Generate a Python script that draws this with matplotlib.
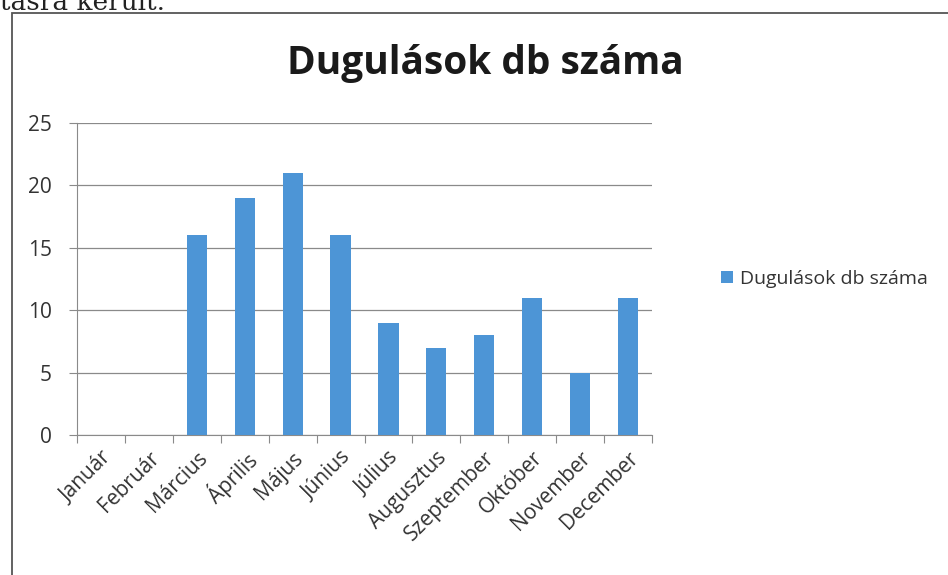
import matplotlib.pyplot as plt
from matplotlib.patches import Rectangle

months = ['Január', 'Február', 'Március', 'Április', 'Május', 'Június',
          'Július', 'Augusztus', 'Szeptember', 'Október', 'November', 'December']
counts = [0, 0, 16, 19, 21, 16, 9, 7, 8, 11, 5, 11]
series_name = 'Dugulások db száma'

plt.rcParams['font.family'] = ['Open Sans', 'DejaVu Sans']
txt = '#333333'

fig = plt.figure(figsize=(9.48, 5.75), dpi=100)
ax = fig.add_axes([0.0812, 0.2435, 0.6066, 0.5426])

x = range(len(months))
ax.bar(x, counts, width=0.42, color='#4D95D6', label=series_name, zorder=3)

ax.set_xlim(-0.5, len(months) - 0.5)
ax.set_ylim(0, 25)
ax.set_yticks([0, 5, 10, 15, 20, 25])
ax.yaxis.grid(True, color='#8a8a8a', linewidth=0.9, zorder=0)

ax.set_xticks([i - 0.5 for i in range(len(months) + 1)], minor=False)
ax.set_xticklabels([])
ax.set_xticks(list(x), minor=True)
ax.set_xticklabels(months, minor=True, rotation=45, ha='right',
                   rotation_mode='anchor', fontsize=15, color=txt)
ax.tick_params(axis='x', which='major', length=6, color='#8a8a8a')
ax.tick_params(axis='x', which='minor', length=0, pad=9)
ax.tick_params(axis='y', length=6, color='#8a8a8a', labelsize=15,
               labelcolor=txt, pad=12)

for side in ['top', 'right']:
    ax.spines[side].set_visible(False)
for side in ['left', 'bottom']:
    ax.spines[side].set_color('#8a8a8a')

fig.text(0.512, 0.89, series_name, ha='center', va='center',
         fontsize=28, fontweight='bold', color='#1a1a1a')

ax.legend(loc='center left', bbox_to_anchor=(1.09, 0.5), frameon=False,
          fontsize=14, handlelength=0.6, handleheight=0.6, handletextpad=0.35,
          labelcolor=txt)

# chart frame and the clipped line of text above it
fig.add_artist(Rectangle((12 / 948, -0.1), 1.1, 1.1 - 13 / 575,
                         transform=fig.transFigure, fill=False,
                         edgecolor='#555555', linewidth=1.3))
fig.text(0.0, 0.995, 'tásra került.', ha='left', va='center',
         fontsize=19, family='DejaVu Serif', color='#222222')

fig.savefig('out.png', dpi=100)
